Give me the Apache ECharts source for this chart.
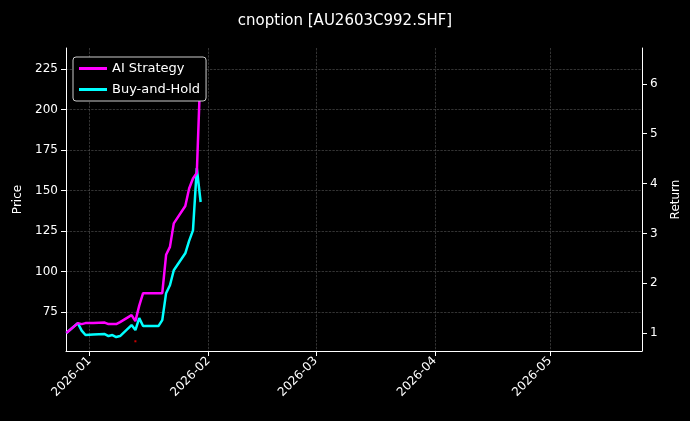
<!DOCTYPE html>
<html>
<head>
<meta charset="utf-8">
<script src="https://cdn.jsdelivr.net/npm/echarts@6/dist/echarts.min.js"></script>
<style>html,body{margin:0;background:#000;}#main{width:690px;height:421px;}</style>
</head>
<body>
<div id="main"></div>
<script>
'use strict';

var dates = ['2025-12-26','2025-12-29','2025-12-30','2025-12-31','2026-01-02','2026-01-05','2026-01-06',
    '2026-01-07','2026-01-08','2026-01-09','2026-01-12','2026-01-13','2026-01-14','2026-01-15','2026-01-16',
    '2026-01-19','2026-01-20','2026-01-21','2026-01-22','2026-01-23','2026-01-26','2026-01-27','2026-01-28',
    '2026-01-29','2026-01-30'];
var aiStrategy = [1.00,1.20,1.18,1.20,1.20,1.21,1.18,1.18,1.18,1.22,1.36,1.24,1.55,1.80,1.80,
    1.80,1.80,2.57,2.73,3.20,3.55,3.90,4.10,4.21,6.38];
var buyHold = [1.00,1.20,1.05,0.96,0.97,0.98,0.94,0.96,0.92,0.94,1.16,1.06,1.30,1.14,1.14,
    1.14,1.26,1.80,1.96,2.26,2.60,2.85,3.06,4.31,3.63];
var sellDates = ['2026-01-13'];
var sellPrices = [57];
var priceTicks = [75,100,125,150,175,200,225];
var returnTicks = [1,2,3,4,5,6];
var monthTicks = ['2026-01-01','2026-02-01','2026-03-01','2026-04-01','2026-05-01'];

var ts = function (d) { return new Date(d + 'T00:00:00Z').getTime(); };
var zip = function (xs, ys) {
    return xs.map(function (d, i) { return [ts(d), ys[i]]; });
};

var chart = echarts.init(document.getElementById('main'));
var gridLine = {show: true, lineStyle: {color: '#555', type: 'dashed', width: 0.6}};

chart.setOption({
    backgroundColor: '#000',
    animation: false,
    textStyle: {fontFamily: 'DejaVu Sans', color: '#fff'},
    title: {
        text: 'cnoption [AU2603C992.SHF]',
        left: 'center',
        top: 9,
        textStyle: {color: '#fff', fontSize: 15, fontWeight: 'normal'}
    },
    legend: {
        left: 73, top: 57, orient: 'vertical',
        data: ['AI Strategy', 'Buy-and-Hold'],
        icon: 'rect',
        itemWidth: 28, itemHeight: 3, itemGap: 8,
        textStyle: {color: '#fff', fontSize: 13},
        backgroundColor: '#000', borderColor: '#ccc', borderWidth: 1, borderRadius: 3,
        padding: [5, 6]
    },
    grid: {left: 66, right: 48, top: 48, bottom: 70},
    xAxis: {
        type: 'value',
        min: ts('2025-12-25') + 22 * 3600e3,
        max: ts('2026-05-25'),
        axisLine: {lineStyle: {color: '#fff'}},
        axisTick: {customValues: monthTicks.map(ts), lineStyle: {color: '#fff'}},
        axisLabel: {
            customValues: monthTicks.map(ts), rotate: 45, color: '#fff', fontSize: 12,
            formatter: function (v) {
                var d = new Date(v);
                return d.getUTCFullYear() + '-' + String(d.getUTCMonth() + 1).padStart(2, '0');
            }
        },
        splitLine: gridLine
    },
    yAxis: [{
        type: 'value', name: 'Price', nameLocation: 'middle', nameGap: 42,
        nameTextStyle: {color: '#fff', fontSize: 12},
        min: 51, max: 238,
        axisLine: {show: true, lineStyle: {color: '#fff'}},
        axisTick: {show: true, customValues: priceTicks},
        axisLabel: {customValues: priceTicks, color: '#fff', fontSize: 12},
        splitLine: gridLine
    }, {
        type: 'value', name: 'Return', nameLocation: 'middle', nameGap: 28,
        nameTextStyle: {color: '#fff', fontSize: 12},
        min: 0.64, max: 6.72,
        axisLine: {show: true, lineStyle: {color: '#fff'}},
        axisTick: {show: true, customValues: returnTicks},
        axisLabel: {customValues: returnTicks, color: '#fff', fontSize: 12},
        splitLine: {show: false}
    }],
    series: [{
        name: 'AI Strategy', type: 'line', yAxisIndex: 1, symbol: 'none',
        data: zip(dates, aiStrategy), z: 3,
        lineStyle: {color: '#ff00ff', width: 2.5}, itemStyle: {color: '#ff00ff'}
    }, {
        name: 'Buy-and-Hold', type: 'line', yAxisIndex: 1, symbol: 'none',
        data: zip(dates, buyHold), z: 2,
        lineStyle: {color: '#00ffff', width: 2.5}, itemStyle: {color: '#00ffff'}
    }, {
        name: 'Sell', type: 'scatter', yAxisIndex: 0, symbol: 'rect', symbolSize: 2,
        data: zip(sellDates, sellPrices), itemStyle: {color: '#ff0000'}
    }]
});
</script>
</body>
</html>
